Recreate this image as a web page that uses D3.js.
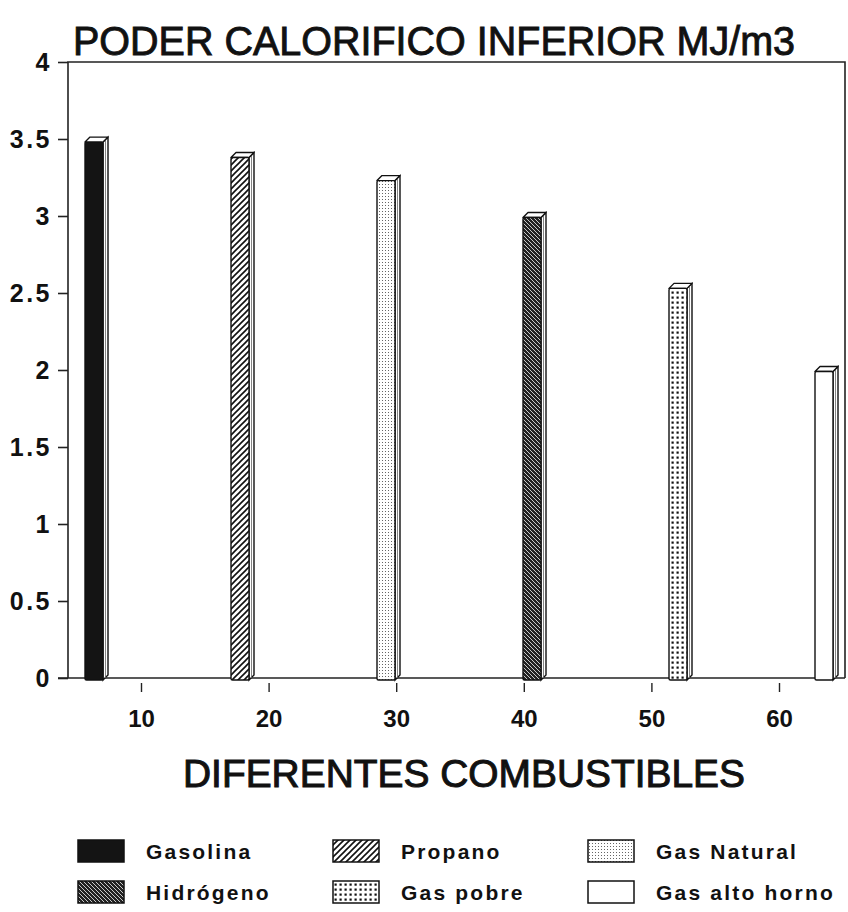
<!DOCTYPE html>
<html>
<head>
<meta charset="utf-8">
<script src="https://cdn.jsdelivr.net/npm/d3@7"></script>
<style>
  html, body { margin: 0; padding: 0; background: #fff; }
  svg { display: block; }
  text { fill: #111; }
</style>
</head>
<body>
<svg id="chart" width="848" height="912"></svg>
<script>
// Lower heating value of several fuels (MJ/m3)
const fuels = ["Gasolina", "Propano", "Gas Natural", "Hidrógeno", "Gas pobre", "Gas alto horno"];
const heatValues = [3.48, 3.38, 3.23, 2.99, 2.53, 1.99];
const fillKeys = ["solid", "hatch", "stipple", "darkHatch", "grid", "blank"];
const yTicks = [0, 0.5, 1, 1.5, 2, 2.5, 3, 3.5, 4];
const xTicks = [10, 20, 30, 40, 50, 60];
const titleText = "PODER CALORIFICO INFERIOR MJ/m3";
const xTitleText = "DIFERENTES COMBUSTIBLES";

const svg = d3.select("#chart");
const plot = { left: 68, right: 845, top: 62, bottom: 678 };

const y = d3.scaleLinear().domain([0, 4]).range([plot.bottom, plot.top]);
const x = d3.scaleLinear().domain([10, 60]).range([141, 779]);
const barPos = d3.scalePoint().domain(fuels).range([94, 824]);

// ---- fill patterns ----
const defs = svg.append("defs");
function pattern(id, w, h, build) {
  const p = defs.append("pattern").attr("id", id)
    .attr("patternUnits", "userSpaceOnUse").attr("width", w).attr("height", h);
  build(p);
}
pattern("hatch", 6, 6, p => {
  p.append("rect").attr("width", 6).attr("height", 6).attr("fill", "#fff");
  p.append("path").attr("d", "M-1,7 L7,-1 M-4,4 L4,-4 M2,10 L10,2")
    .attr("stroke", "#111").attr("stroke-width", 1.6);
});
pattern("darkHatch", 4, 4, p => {
  p.append("rect").attr("width", 4).attr("height", 4).attr("fill", "#222");
  p.append("path").attr("d", "M-1,-1 L5,5 M-3,1 L1,5 M3,-1 L5,1")
    .attr("stroke", "#ddd").attr("stroke-width", 0.9);
});
pattern("stipple", 3, 3, p => {
  p.append("rect").attr("width", 3).attr("height", 3).attr("fill", "#fff");
  p.append("rect").attr("x", 1).attr("y", 1).attr("width", 1).attr("height", 1).attr("fill", "#666");
});
pattern("grid", 5, 5, p => {
  p.append("rect").attr("width", 5).attr("height", 5).attr("fill", "#fff");
  p.append("rect").attr("x", 1.5).attr("y", 1.5).attr("width", 2.2).attr("height", 2.2).attr("fill", "#111");
});
const fillFor = k => k === "solid" ? "#141414" : k === "blank" ? "#fff" : `url(#${k})`;

// ---- title ----
svg.append("text")
  .attr("x", 73).attr("y", 55)
  .attr("font-family", "'Liberation Sans Narrow', 'Arial Narrow', 'Liberation Sans', Arial, sans-serif")
  .attr("font-size", 40)
  .attr("stroke", "#111").attr("stroke-width", 0.9)
  .attr("textLength", 722).attr("lengthAdjust", "spacingAndGlyphs")
  .text(titleText);

// ---- frame ----
const g = svg.append("g");
g.append("path")
  .attr("d", `M${plot.left},${plot.bottom} V${plot.top} H${plot.right} V${plot.bottom}`)
  .attr("fill", "none").attr("stroke", "#222").attr("stroke-width", 1.6);

// ---- y axis ----
const yAxis = g.append("g").attr("transform", `translate(${plot.left},0)`)
  .call(d3.axisLeft(y).tickValues(yTicks).tickSize(10).tickPadding(6)
    .tickFormat(d => String(d)));
yAxis.select(".domain").remove();
yAxis.selectAll("line").attr("stroke", "#222").attr("stroke-width", 1.6);
yAxis.selectAll("text")
  .attr("font-family", "'Liberation Sans', Arial, sans-serif")
  .attr("font-weight", "bold").attr("font-size", 25)
  .attr("letter-spacing", 2.5)
  .attr("fill", "#111");

// ---- x axis ----
g.append("line")
  .attr("x1", plot.left - 10).attr("x2", plot.right)
  .attr("y1", plot.bottom).attr("y2", plot.bottom)
  .attr("stroke", "#222").attr("stroke-width", 1.6);
const xAxis = g.append("g").attr("transform", `translate(0,${plot.bottom + 5})`)
  .call(d3.axisBottom(x).tickValues(xTicks).tickSize(9).tickPadding(18));
xAxis.select(".domain").remove();
xAxis.selectAll("line").attr("stroke", "#222").attr("stroke-width", 1.4);
xAxis.selectAll("text")
  .attr("font-family", "'Liberation Sans', Arial, sans-serif")
  .attr("font-weight", "bold").attr("font-size", 24)
  .attr("fill", "#111");

// ---- 3D bars ----
const barW = 18, dx = 5, dy = 5;
const bars = g.append("g").selectAll("g").data(fuels).join("g");
bars.each(function (name, i) {
  const b = d3.select(this);
  const x0 = barPos(name) - barW / 2, x1 = x0 + barW;
  const yt = y(heatValues[i]), yb = y(0) + 2;
  // side face
  b.append("path")
    .attr("d", `M${x1},${yt} L${x1 + dx},${yt - dy} L${x1 + dx},${yb - dy} L${x1},${yb} Z`)
    .attr("fill", "#fff").attr("stroke", "#111").attr("stroke-width", 1.4);
  b.append("line")
    .attr("x1", x1 + 2.5).attr("x2", x1 + 2.5)
    .attr("y1", yt - 2).attr("y2", yb - 2)
    .attr("stroke", "#666").attr("stroke-width", 0.8);
  // top face
  b.append("path")
    .attr("d", `M${x0},${yt} L${x0 + dx},${yt - dy} L${x1 + dx},${yt - dy} L${x1},${yt} Z`)
    .attr("fill", "#fff").attr("stroke", "#111").attr("stroke-width", 1.4)
    .attr("stroke-linejoin", "round");
  // front face
  b.append("rect")
    .attr("x", x0).attr("y", yt).attr("width", barW).attr("height", yb - yt)
    .attr("rx", 1.5)
    .attr("fill", fillFor(fillKeys[i])).attr("stroke", "#111").attr("stroke-width", 1.4);
});

// ---- x axis title ----
svg.append("text")
  .attr("x", 183).attr("y", 787)
  .attr("font-family", "'Liberation Sans', Arial, sans-serif")
  .attr("font-size", 38)
  .attr("stroke", "#111").attr("stroke-width", 1)
  .attr("textLength", 562).attr("lengthAdjust", "spacingAndGlyphs")
  .text(xTitleText);

// ---- legend ----
const legCols = [78, 333, 588];
const legRows = [851, 892];
const legend = svg.append("g").selectAll("g").data(fuels).join("g")
  .attr("transform", (d, i) => `translate(${legCols[i % 3]},${legRows[Math.floor(i / 3)]})`);
legend.append("rect")
  .attr("x", 0).attr("y", -11).attr("width", 46).attr("height", 22)
  .attr("fill", (d, i) => fillFor(fillKeys[i]))
  .attr("stroke", "#111").attr("stroke-width", 1.5);
legend.append("text")
  .attr("x", 68).attr("y", 8)
  .attr("font-family", "'Liberation Sans', Arial, sans-serif")
  .attr("font-weight", "bold").attr("font-size", 21)
  .attr("letter-spacing", 2.2)
  .text(d => d);
</script>
</body>
</html>
